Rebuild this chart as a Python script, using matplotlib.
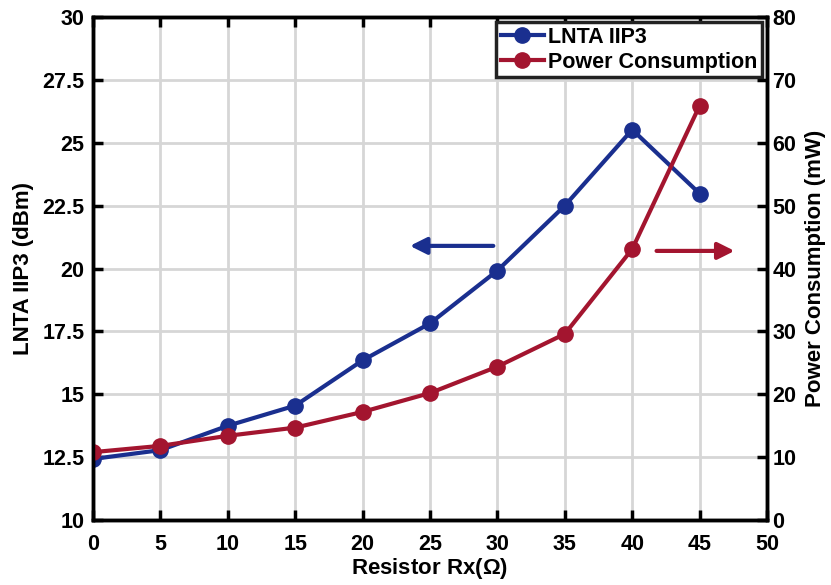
import matplotlib.pyplot as plt

plt.rcParams['font.family'] = ['Liberation Sans', 'DejaVu Sans']
plt.rcParams['font.weight'] = 'bold'
plt.rcParams['mathtext.fontset'] = 'custom'
plt.rcParams['mathtext.rm'] = 'Liberation Sans'

rx = [0, 5, 10, 15, 20, 25, 30, 35, 40, 45]
iip3 = [12.43, 12.78, 13.75, 14.55, 16.35, 17.82, 19.92, 22.5, 25.52, 22.98]
power = [10.8, 11.8, 13.4, 14.7, 17.2, 20.2, 24.4, 29.6, 43.1, 65.9]

blue = '#1a2f8f'
red = '#a3152f'

fig = plt.figure(figsize=(8.31, 5.85), dpi=100)
ax = fig.add_axes([0.112, 0.111, 0.811, 0.860])
ax2 = ax.twinx()

l1, = ax.plot(rx, iip3, '-o', color=blue, lw=3, ms=11, label='LNTA IIP3')
l2, = ax2.plot(rx, power, '-o', color=red, lw=3, ms=11, label='Power Consumption')

ax.set_xlim(0, 50)
ax.set_ylim(10, 30)
ax2.set_ylim(0, 80)
ax.set_xticks(range(0, 51, 5))
ax.set_yticks([10, 12.5, 15, 17.5, 20, 22.5, 25, 27.5, 30])
ax.set_yticklabels(['10', '12.5', '15', '17.5', '20', '22.5', '25', '27.5', '30'])
ax2.set_yticks(range(0, 81, 10))

ax.grid(True, color='#d6d6d6', lw=2)
ax.set_axisbelow(True)

for a in (ax, ax2):
    for s in a.spines.values():
        s.set_linewidth(2.5)
    a.tick_params(direction='in', width=2.5, length=7, labelsize=15.5)
ax.tick_params(top=True)
ax.tick_params(axis='x', pad=10)
ax.tick_params(axis='y', pad=6)
ax2.tick_params(axis='y', pad=4)

ax.set_xlabel('Resistor Rx($\\mathrm{\\Omega}$)', fontsize=16, fontweight='bold', labelpad=1)
ax.set_ylabel('LNTA IIP3 (dBm)', fontsize=16, fontweight='bold', labelpad=6)
ax2.set_ylabel('Power Consumption (mW)', fontsize=16, fontweight='bold', labelpad=6)

ax.annotate('', xy=(23.3, 20.9), xytext=(29.9, 20.9),
            arrowprops=dict(arrowstyle='-|>', color=blue, lw=3, mutation_scale=25))
ax.annotate('', xy=(47.8, 20.7), xytext=(41.6, 20.7),
            arrowprops=dict(arrowstyle='-|>', color=red, lw=3, mutation_scale=25))

leg = ax2.legend(handles=[l1, l2], loc='upper right', fontsize=15.5, fancybox=False,
                 framealpha=1, edgecolor='#222222', borderpad=0.2, handlelength=2.0,
                 handletextpad=0.2, labelspacing=0.2, borderaxespad=0.25)
leg.get_frame().set_linewidth(2.5)

fig.savefig('out.png', dpi=100)
